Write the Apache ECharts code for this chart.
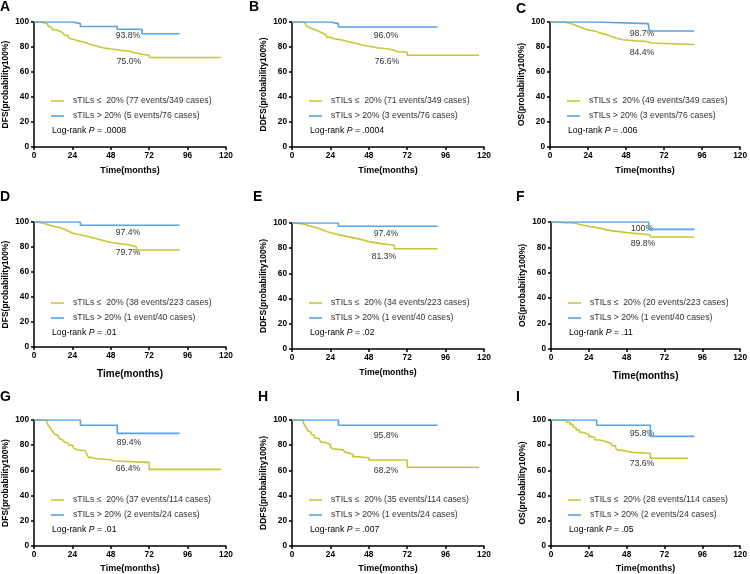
<!DOCTYPE html>
<html>
<head>
<meta charset="utf-8">
<script src="https://cdn.jsdelivr.net/npm/echarts@6/dist/echarts.min.js"></script>
<style>
html,body{margin:0;padding:0;background:#fff;}
#chart{width:750px;height:574px;}
</style>
</head>
<body>
<div id="chart"></div>
<script>
// ---------------- DATA ----------------
const panelLetters = ['A','B','C','D','E','F','G','H','I'];
const yNames = ['DFS(probability100%)','DDFS(probability100%)','OS(probability100%)',
                'DFS(probability100%)','DDFS(probability100%)','OS(probability100%)',
                'DFS(probability100%)','DDFS(probability100%)','OS(probability100%)'];
const xName = 'Time(months)';
const lowLegend = [
  'sTILs ≤  20% (77 events/349 cases)','sTILs ≤  20% (71 events/349 cases)','sTILs ≤  20% (49 events/349 cases)',
  'sTILs ≤  20% (38 events/223 cases)','sTILs ≤  20% (34 events/223 cases)','sTILs ≤  20% (20 events/223 cases)',
  'sTILs ≤  20% (37 events/114 cases)','sTILs ≤  20% (35 events/114 cases)','sTILs ≤  20% (28 events/114 cases)'];
const highLegend = [
  'sTILs > 20% (5 events/76 cases)','sTILs > 20% (3 events/76 cases)','sTILs > 20% (3 events/76 cases)',
  'sTILs > 20% (1 event/40 cases)','sTILs > 20% (1 event/40 cases)','sTILs > 20% (1 event/40 cases)',
  'sTILs > 20% (2 events/24 cases)','sTILs > 20% (1 events/24 cases)','sTILs > 20% (2 events/24 cases)'];
const pValues = ['.0008','.0004','.006','.01','.02','.11','.01','.007','.05'];
const highPct = ['93.8%','96.0%','98.7%','97.4%','97.4%','100%','89.4%','95.8%','95.8%'];
const lowPct  = ['75.0%','76.6%','84.4%','79.7%','81.3%','89.8%','66.4%','68.2%','73.6%'];

// Kaplan-Meier steps: [months, survival %]
const lowA = [[0,100],[4,99.4],[6,98.8],[8,97.6],[9,96.8],[10,95.6],[11,94.5],[12,93.6],[14,92.6],[16,91.5],[18,90.3],[19,89.4],[21,88.2],[22,87],[23,86],[25,85.2],[27,84.5],[29,84],[31,83.2],[33,82.2],[35,81.4],[37,80.8],[39,80],[41,79.4],[43,79],[45,78.4],[48,78],[51,77.4],[54,77],[57,76.6],[60,75.6],[62,75],[65,74],[68,73.4],[72,71.6],[117,71.6]];
const highA = [[0,100],[24,98.7],[29,96.4],[52,94.2],[67.5,90.6],[91,90.6]];
const lowB = [[0,100],[6,99.4],[8,98],[9,96.8],[10,95.6],[11,94.4],[13,93.4],[15,92.4],[17,91.2],[19,90],[21,88.8],[22,87.8],[24,86.6],[26,86],[29,85.4],[32,84.4],[35,83.4],[38,82.6],[41,81.6],[44,80.8],[47,80.2],[50,79.4],[53,78.8],[58,78.6],[60,77.4],[64,76.2],[66,75.8],[72,73.4],[117,73.4]];
const highB = [[0,100],[24,98.7],[29,96],[91,96]];
const lowC = [[0,100],[9,99.4],[11,98.8],[13,98],[15,97],[17,96],[19,95],[21,94],[23,93.2],[26,92.5],[29,91.5],[31,90.7],[33,89.8],[36,88.8],[38,88],[40,87],[42,85.8],[46,85.4],[50,84.9],[54,84.6],[60,84],[62,83.2],[64,82],[91,82]];
const highC = [[0,100],[29,98.7],[62,97.3],[62.5,95],[63,92.8],[91,92.8]];
const lowD = [[0,100],[2,99.5],[4,99],[6,98.2],[8,97.3],[10,96.4],[13,95.6],[16,94.8],[18,93.6],[20,92.4],[22,91.2],[24,90.2],[27,89.4],[30,88.6],[33,87.6],[36,86.6],[39,85.6],[42,84.6],[45,83.8],[48,83],[52,82.2],[56,81.6],[60,81],[62,80],[64,77.6],[91,77.6]];
const highD = [[0,100],[29,97.4],[91,97.4]];
const lowE = [[0,100],[3,99.5],[5,99],[8,98],[10,97],[13,96],[16,95],[18,94],[20,93],[22,92],[25,91],[28,90.2],[31,89.4],[34,88.6],[37,87.8],[40,87],[43,86],[46,85],[49,84.4],[52,83.6],[56,83],[60,82.4],[64,79.6],[91,79.6]];
const highE = [[0,100],[29,97.4],[91,97.4]];
const lowF = [[0,100],[4,99.5],[8,99.2],[14,98.8],[16,97.8],[19,97],[22,96.2],[25,95.8],[28,95.2],[31,94.2],[34,93.2],[38,92.6],[42,92],[46,91.4],[50,91],[54,90.4],[60,89.8],[63,88.2],[91,88.2]];
const highF = [[0,100],[62,94.2],[91,94.2]];
const lowG = [[0,100],[8,98.2],[9,95.6],[10,93.8],[11,92],[12,90.3],[13,88.6],[14,87.7],[15,86.8],[16,85.1],[17,84.2],[18,83.4],[19,82.6],[20,81.7],[21,80.9],[22,80],[24,79.1],[25,77.3],[26,76.4],[27,75.6],[32,74.7],[33,73],[34,70.3],[36,69.4],[38,68.4],[48,67.5],[50,66.4],[72,60.8],[117,60.8]];
const highG = [[0,100],[29,95.8],[52,89.4],[91,89.4]];
const lowH = [[0,100],[7,98.2],[8,95.6],[9,93.8],[10,91.2],[11,90.3],[12,88.6],[13,87.7],[14,86],[15,85.1],[17,84.2],[18,82.4],[20,81.5],[22,80.6],[24,78.9],[25,77.2],[26,76.3],[32,75.4],[33,74.5],[34,73.7],[36,72.8],[38,70.9],[40,70],[48,68.2],[72,62.5],[117,62.5]];
const highH = [[0,100],[29,95.8],[91,95.8]];
const lowI = [[0,100],[9,99.1],[10,98.2],[12,96.5],[14,94.7],[15,93.8],[16,92.1],[18,90.3],[20,89.4],[22,88.5],[24,86.8],[26,85.9],[28,84.1],[31,83.2],[34,82.3],[36,81.4],[38,80.5],[39,79.6],[41,77.9],[42,76.1],[44,75.2],[48,74.3],[52,73.6],[63,69.6],[87,69.6]];
const highI = [[0,100],[29,95.8],[63,87],[91,87]];

const lowSeries  = [lowA, lowB, lowC, lowD, lowE, lowF, lowG, lowH, lowI];
const highSeries = [highA, highB, highC, highD, highE, highF, highG, highH, highI];

// ---------------- LAYOUT ----------------
const gridRects = [[34,22,192,125],[292,22,192,125],[550,22,193,125],
                   [34,222,192,125],[292,223,192,126],[551,222,192,127],
                   [34,420,192,126],[292,420,192,126],[551,420,192,126]];
const letterPos = [[0,0],[249,0],[516,2],[0,190],[253,190],[516,190],[0,390],[258,390],[516,390]];
const pctPos = [[128,36,129,62],[386,36,387,62],[642,34,642,53],
                [128,233,128,253],[386,234,384,257],[642,229,643,244],
                [129,443,128,469],[386,436,386,471],[642,434,642,464]];
const legendRowY = [[101,116,131],[303,318,333],[500,515,530]];
const xNameSize = [9,9,9,10,8.7,10,9,9,9];
const xNameGap = [19,19,19,22,19,22,18,18,18];

const YELLOW = '#c6c835';
const BLUE = '#56a3e8';
const FONT = 'Arial, "Liberation Sans", Helvetica, sans-serif';

const grid = [], xAxis = [], yAxis = [], series = [], graphic = [];
for (let i = 0; i < 9; i++) {
  const r = gridRects[i];
  grid.push({left: r[0], top: r[1], width: r[2], height: r[3], containLabel: false});
  xAxis.push({
    gridIndex: i, type: 'value', min: 0, max: 120, interval: 24,
    axisLine: {show: true, onZero: false, lineStyle: {color: '#000', width: 1.5}},
    axisTick: {show: true, length: 3, lineStyle: {color: '#000', width: 1.5}},
    splitLine: {show: false},
    axisLabel: {fontSize: 8.3, fontWeight: 'bold', color: '#000', margin: 5, fontFamily: FONT},
    name: xName, nameLocation: 'middle', nameGap: xNameGap[i],
    nameTextStyle: {fontSize: xNameSize[i], fontWeight: 'bold', color: '#000', fontFamily: FONT}
  });
  yAxis.push({
    gridIndex: i, type: 'value', min: 0, max: 100, interval: 20,
    axisLine: {show: true, onZero: false, lineStyle: {color: '#000', width: 1.5}},
    axisTick: {show: true, length: 3, lineStyle: {color: '#000', width: 1.5}},
    splitLine: {show: false},
    axisLabel: {fontSize: 8.3, fontWeight: 'bold', color: '#000', margin: 5, fontFamily: FONT},
    name: yNames[i], nameLocation: 'middle', nameGap: 24,
    nameTextStyle: {fontSize: 8.5, fontWeight: 'bold', color: '#000', fontFamily: FONT}
  });
  series.push({
    type: 'line', xAxisIndex: i, yAxisIndex: i, data: lowSeries[i], step: 'end',
    symbol: 'none', lineStyle: {color: YELLOW, width: 1.6}, itemStyle: {color: YELLOW}, silent: true
  });
  series.push({
    type: 'line', xAxisIndex: i, yAxisIndex: i, data: highSeries[i], step: 'end',
    symbol: 'none', lineStyle: {color: BLUE, width: 1.6}, itemStyle: {color: BLUE}, silent: true
  });

  // panel letter
  graphic.push({type: 'text', x: letterPos[i][0], y: letterPos[i][1],
    style: {text: panelLetters[i], fontSize: 14, fontWeight: 'bold', fontFamily: FONT, fill: '#000', verticalAlign: 'top'}});

  // percentages
  const p = pctPos[i];
  graphic.push({type: 'text', x: p[0], y: p[1],
    style: {text: highPct[i], fontSize: 8.7, fontFamily: FONT, fill: '#333', align: 'center', verticalAlign: 'middle'}});
  graphic.push({type: 'text', x: p[2], y: p[3],
    style: {text: lowPct[i], fontSize: 8.7, fontFamily: FONT, fill: '#333', align: 'center', verticalAlign: 'middle'}});

  // legend
  const ly = legendRowY[Math.floor(i / 3)];
  const gx = r[0];
  graphic.push({type: 'line', shape: {x1: gx + 17, y1: ly[0], x2: gx + 30, y2: ly[0]}, style: {stroke: YELLOW, lineWidth: 1.6}});
  graphic.push({type: 'text', x: gx + 39, y: ly[0],
    style: {text: lowLegend[i], fontSize: 8.7, fontFamily: FONT, fill: '#333', verticalAlign: 'middle'}});
  graphic.push({type: 'line', shape: {x1: gx + 17, y1: ly[1], x2: gx + 30, y2: ly[1]}, style: {stroke: BLUE, lineWidth: 1.6}});
  graphic.push({type: 'text', x: gx + 39, y: ly[1],
    style: {text: highLegend[i], fontSize: 8.7, fontFamily: FONT, fill: '#333', verticalAlign: 'middle'}});
  graphic.push({type: 'text', x: gx + 18, y: ly[2],
    style: {text: '{n|Log-rank }{i|P}{n| = ' + pValues[i] + '}', verticalAlign: 'middle',
      rich: {n: {fontSize: 8.7, fontFamily: FONT, color: '#333'},
             i: {fontSize: 8.7, fontFamily: FONT, color: '#333', fontStyle: 'italic'}}}});
}

const chart = echarts.init(document.getElementById('chart'));
chart.setOption({
  backgroundColor: '#fff',
  animation: false,
  grid: grid, xAxis: xAxis, yAxis: yAxis, series: series, graphic: graphic
});
</script>
</body>
</html>
